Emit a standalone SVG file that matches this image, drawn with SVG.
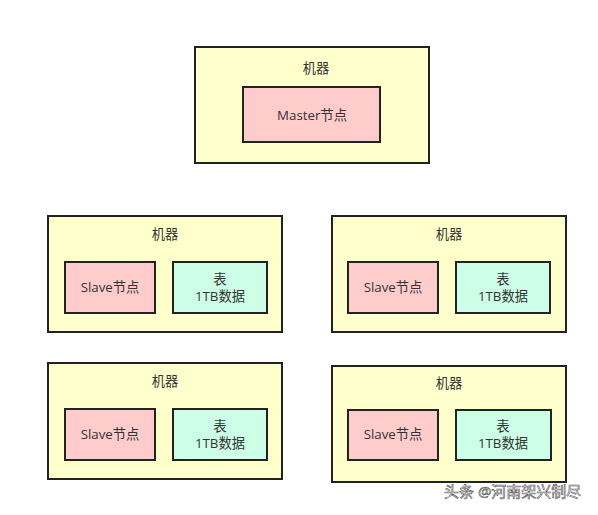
<svg xmlns="http://www.w3.org/2000/svg" width="598" height="515" viewBox="0 0 598 515">
<style>
.m{fill:#ffffcc;stroke:#222;stroke-width:2}
.p{fill:#ffcccc;stroke:#222;stroke-width:2}
.g{fill:#ccffe6;stroke:#222;stroke-width:2}
text{font-family:"Open Sans","Noto Sans CJK SC",sans-serif;font-size:13.3px;fill:#333;text-anchor:middle}
.w{font-size:15px;fill:#fff;stroke:#555;stroke-width:0.6;text-anchor:start}
</style>
<rect width="598" height="515" fill="#fff"/>
<g id="master-machine">
<rect class="m" x="195" y="47" width="234" height="116"/>
<text x="316" y="73">机器</text>
<rect class="p" x="243" y="87" width="137" height="55"/>
<text x="312" y="120">Master节点</text>
</g>
<g id="machine1">
<rect class="m" x="48" y="216" width="234" height="116"/>
<text x="165" y="239">机器</text>
<rect class="p" x="65" y="262" width="90" height="51"/>
<text x="110" y="292">Slave节点</text>
<rect class="g" x="173" y="262" width="94" height="51"/>
<text x="220" y="284">表</text>
<text x="220" y="301">1TB数据</text>
</g>
<g id="machine2">
<rect class="m" x="332" y="216" width="234" height="116"/>
<text x="449" y="239">机器</text>
<rect class="p" x="348" y="262" width="90" height="51"/>
<text x="393" y="292">Slave节点</text>
<rect class="g" x="456" y="262" width="94" height="51"/>
<text x="503" y="284">表</text>
<text x="503" y="301">1TB数据</text>
</g>
<g id="machine3">
<rect class="m" x="48" y="363" width="234" height="116"/>
<text x="165" y="386">机器</text>
<rect class="p" x="65" y="409" width="90" height="51"/>
<text x="110" y="439">Slave节点</text>
<rect class="g" x="173" y="409" width="94" height="51"/>
<text x="220" y="431">表</text>
<text x="220" y="448">1TB数据</text>
</g>
<g id="machine4">
<rect class="m" x="332" y="366" width="234" height="116"/>
<text x="449" y="388">机器</text>
<rect class="p" x="348" y="410" width="90" height="50"/>
<text x="393" y="439">Slave节点</text>
<rect class="g" x="456" y="410" width="95" height="50"/>
<text x="503" y="431">表</text>
<text x="503" y="448">1TB数据</text>
</g>
<g id="connectors"></g>
<text class="w" x="444" y="497">头条 @河南架兴制尽</text>
</svg>
